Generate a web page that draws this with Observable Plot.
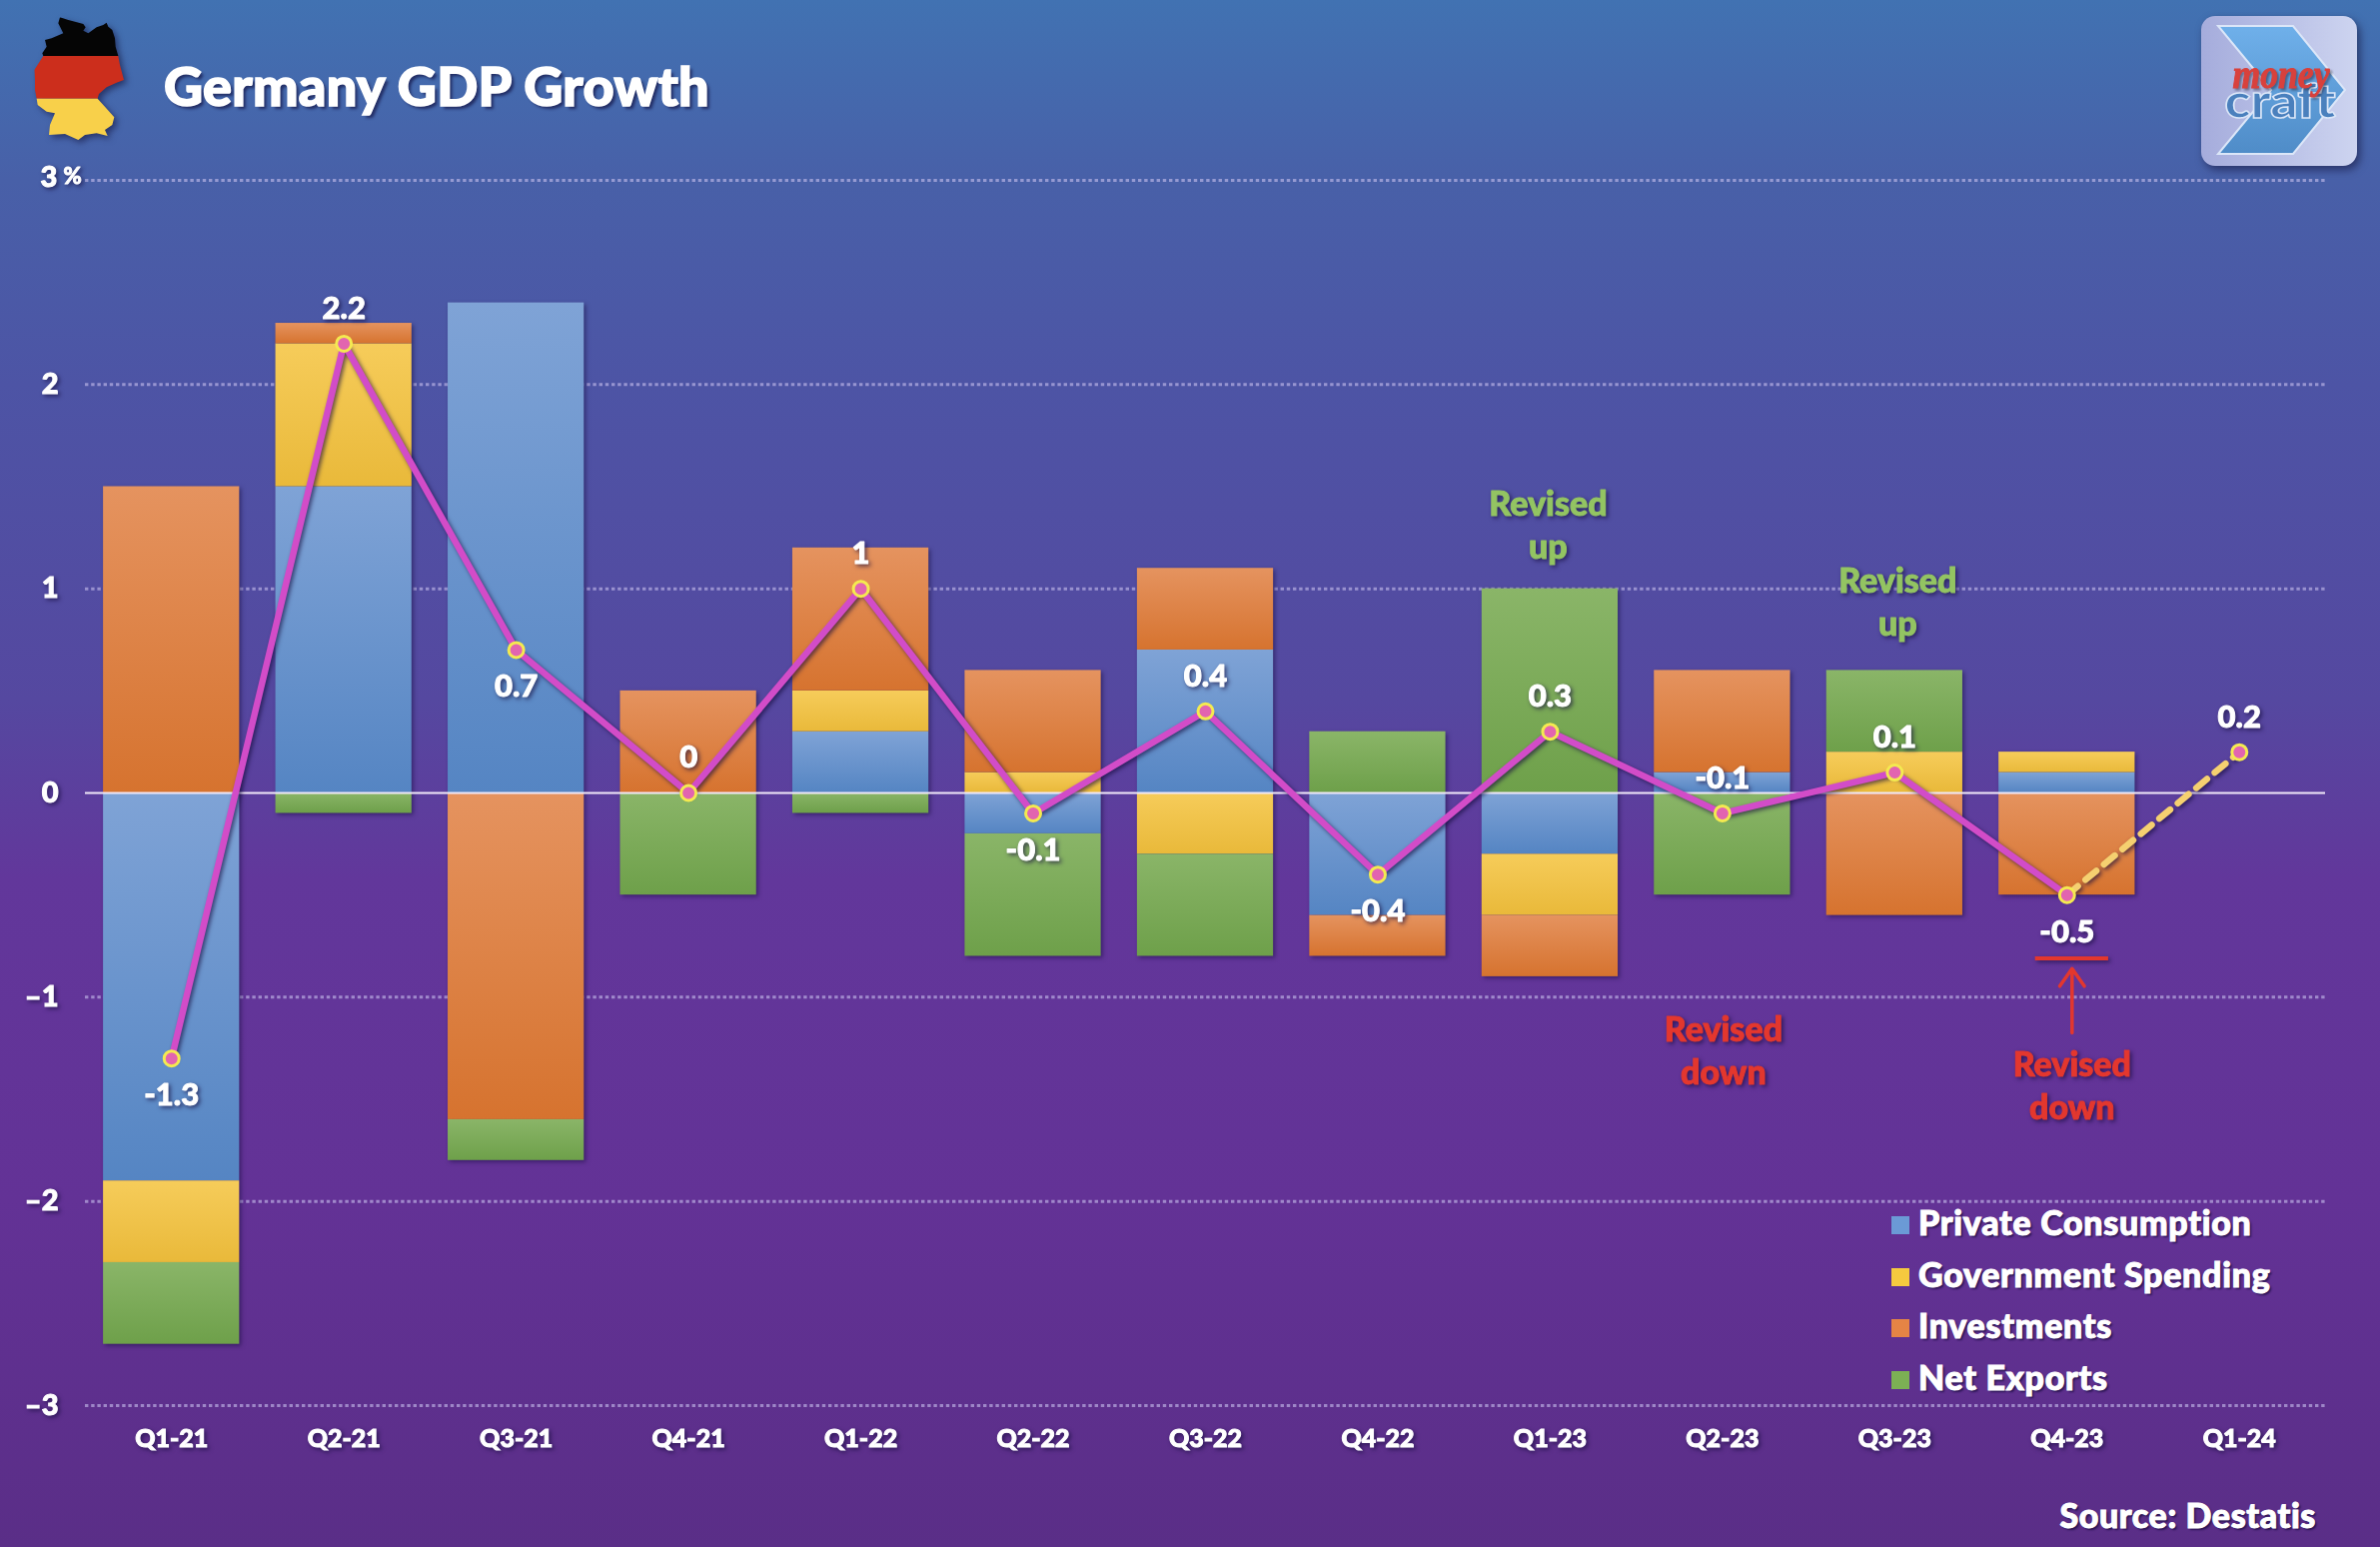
<!DOCTYPE html>
<html>
<head>
<meta charset="utf-8">
<script src="https://cdn.jsdelivr.net/npm/d3@7"></script>
<script src="https://cdn.jsdelivr.net/npm/@observablehq/plot@0.6"></script>
<style>
  html, body { margin: 0; padding: 0; }
  body {
    position: relative; width: 2382px; height: 1548px; overflow: hidden;
    background: linear-gradient(180deg, rgb(65,114,178) 0px, rgb(72,96,168) 180px, rgb(77,84,165) 385px, rgb(85,72,160) 700px, rgb(98,55,155) 880px, rgb(99,50,150) 1200px, rgb(90,46,135) 1548px);
    font-family: Lato, sans-serif; font-weight: 900; color: #fff;
  }
  #chart { position: absolute; left: 0; top: 0; }
  #chart svg { display: block; }
  #chart g[aria-label$="tick label"] text { stroke: #fff; stroke-width: 1px; }
  .title { position: absolute; left: 164px; top: 53px; font-size: 54px; line-height: 66px; letter-spacing: .3px; white-space: nowrap; -webkit-text-stroke: 1.6px #fff; text-shadow: 3px 3px 3px rgba(20,20,70,.7); }
  .source { position: absolute; right: 64px; top: 1496px; font-size: 34px; line-height: 40px; letter-spacing: .6px; white-space: nowrap; -webkit-text-stroke: 1px #fff; text-shadow: 2px 2px 2px rgba(20,10,60,.7); }
  .legend { position: absolute; left: 1893px; top: 1198px; }
  .legend div { position: relative; height: 51.5px; line-height: 50px; font-size: 34px; letter-spacing: .7px; padding-left: 27px; white-space: nowrap; -webkit-text-stroke: 1px #fff; text-shadow: 2px 2px 2px rgba(20,10,60,.7); }
  .legend i { position: absolute; left: 0; top: 19px; width: 18px; height: 18px; }
  .flag, .logo { position: absolute; }
</style>
</head>
<body>
<div id="chart"></div>
<svg class="flag" style="left:25px;top:10px;filter:drop-shadow(3px 3px 3px rgba(20,20,60,.6))" width="110" height="135" viewBox="0 0 330 405">
  <defs><clipPath id="de"><path d="M105,22 L130,30 150,35 175,42 182,52 175,62 190,70 215,52 235,45 245,38 250,50 262,60 270,85 272,110 280,138 285,165 297,210 275,218 245,232 222,252 218,266 235,285 268,322 262,345 240,360 248,378 215,370 180,375 160,390 120,372 72,375 75,345 90,310 65,305 38,285 35,266 30,240 30,210 28,180 55,138 52,130 65,110 60,90 80,85 115,70 100,40 Z"/></clipPath></defs>
  <g clip-path="url(#de)">
    <rect x="0" y="0" width="330" height="138" fill="#050505"/>
    <rect x="0" y="138" width="330" height="128" fill="#cc2e1c"/>
    <rect x="0" y="266" width="330" height="139" fill="#f8d04a"/>
  </g>
</svg>
<div class="title">Germany GDP Growth</div>
<svg class="logo" style="left:2203px;top:16px;filter:drop-shadow(3px 4px 4px rgba(20,20,60,.6))" width="157" height="151" viewBox="0 0 157 151">
  <defs>
    <linearGradient id="lb" x1="0" x2="1" y1="0" y2="0"><stop offset="0" stop-color="#a5acdc"/><stop offset="1" stop-color="#cdd4f0"/></linearGradient>
    <linearGradient id="lc" x1="0" x2="0" y1="0" y2="1"><stop offset="0" stop-color="#6fb0ea"/><stop offset="1" stop-color="#4f8cc8"/></linearGradient>
  </defs>
  <rect x="0" y="0" width="156" height="150" rx="14" fill="url(#lb)"/>
  <path d="M17,10 L92,10 144,74 92,138 17,138 70,74 Z" fill="url(#lc)" stroke="#dbe6f8" stroke-width="2"/>
  <text x="79" y="102" text-anchor="middle" textLength="111" lengthAdjust="spacingAndGlyphs" font-family="Lato" font-weight="900" font-size="48" fill="#4a80bd" stroke="#dbe6f8" stroke-width="1.5">craft</text>
  <text x="80" y="72" text-anchor="middle" textLength="97" lengthAdjust="spacingAndGlyphs" font-family="Liberation Serif" font-style="italic" font-weight="700" font-size="40" fill="#d8413c" stroke="#d8413c" stroke-width="1" style="filter:drop-shadow(2px 2px 1px rgba(40,40,60,.5))">money</text>
</svg>
<div class="legend" id="legend"></div>
<div class="source">Source: Destatis</div>
<script>
const quarters = ["Q1-21","Q2-21","Q3-21","Q4-21","Q1-22","Q2-22","Q3-22","Q4-22","Q1-23","Q2-23","Q3-23","Q4-23","Q1-24"];
const seriesNames = ["Private Consumption","Government Spending","Investments","Net Exports"];
const privateConsumption = [-1.9, 1.5, 2.4, 0, 0.3, -0.2, 0.7, -0.6, -0.3, 0.1, 0, 0.1, 0];
const governmentSpending = [-0.4, 0.7, 0, 0, 0.2, 0.1, -0.3, 0, -0.3, 0, 0.2, 0.1, 0];
const investments = [1.5, 0.1, -1.6, 0.5, 0.7, 0.5, 0.4, -0.2, -0.3, 0.5, -0.6, -0.5, 0];
const netExports = [-0.4, -0.1, -0.2, -0.5, -0.1, -0.6, -0.5, 0.3, 1.0, -0.5, 0.4, 0, 0];
const gdpGrowth = [-1.3, 2.2, 0.7, 0, 1, -0.1, 0.4, -0.4, 0.3, -0.1, 0.1, -0.5, 0.2];
const labelsBelow = ["Q1-21","Q3-21","Q2-22","Q4-22","Q4-23"];
const yTicks = [-3,-2,-1,0,1,2];
const gridTicks = [-3,-2,-1,1,2,3];
const gradientStops = [["#7fa3d6","#5585c3"],["#f6cc5a","#e9b93a"],["#e5935f","#d6732f"],["#8ab568","#6ea04a"]];
const legendColors = ["#6b9ad6","#f5c93f","#e58445","#7cb054"];
const revisedUp = [{q:"Q1-23", v:1.32},{q:"Q3-23", v:0.945}];
const revisedDown = [{q:"Q2-23", v:-1.255},{q:"Q4-23", v:-1.425}];
const underline = [{q:"Q4-23", v:-0.81}];
const arrow = [{q:"Q4-23", from:-1.175, to:-0.86}];

const seriesValues = [privateConsumption, governmentSpending, investments, netExports];
const rows = seriesValues.flatMap((vals, s) => vals.map((value, i) => ({quarter: quarters[i], series: seriesNames[s], value}))).filter(d => d.value !== 0);
const growth = quarters.map((quarter, i) => ({quarter, value: gdpGrowth[i]}));
const shadow = "drop-shadow(2px 2px 2px rgba(20,10,60,.65))";
const font = {fontFamily: "Lato", fontWeight: 900};
const fmt = d => String(d);
const white = {fill: "#fff", stroke: "#fff", strokeWidth: 1, ...font, imageFilter: shadow};
const note = (d, text, color, dx) => Plot.text([d], {x: "q", y: "v", dx, text: () => text, fontSize: 34, lineHeight: 1.27, fill: color, stroke: color, strokeWidth: 1, ...font, imageFilter: shadow});

const plot = Plot.plot({
  width: 2382, height: 1548,
  marginLeft: 85, marginRight: 55, marginTop: 180, marginBottom: 142,
  style: {background: "transparent", fontFamily: "Lato", fontWeight: 900, color: "#fff"},
  x: {domain: quarters, paddingInner: 0.21, paddingOuter: 0.105, round: false, label: null},
  y: {domain: [-3, 3], label: null},
  color: {domain: seriesNames, range: seriesNames.map((_, i) => `url(#grad${i})`)},
  marks: [
    Plot.ruleY(gridTicks, {stroke: "#c9c2ee", strokeOpacity: 0.6, strokeWidth: 3, strokeDasharray: "3.4 2.8"}),
    Plot.barY(rows, {x: "quarter", y: "value", fill: "series", order: null, imageFilter: "drop-shadow(2px 2px 2px rgba(20,10,60,.5))"}),
    Plot.ruleY([0], {stroke: "#f0e8f8", strokeWidth: 2}),
    Plot.axisY({ticks: yTicks, tickSize: 0, tickPadding: 27, tickFormat: d => fmt(d).replace("-", "–"), fontSize: 29, fill: "#fff", label: null, imageFilter: shadow}),
    Plot.text(["3"], {frameAnchor: "top-left", dx: -45, dy: -14, text: d => d, textAnchor: "start", fontSize: 29, ...white}),
    Plot.text(["%"], {frameAnchor: "top-left", dx: -22, dy: -12, text: d => d, textAnchor: "start", fontSize: 22, ...white}),
    Plot.axisX({tickSize: 0, tickPadding: 24, fontSize: 25, fill: "#fff", label: null, imageFilter: shadow}),
    Plot.lineY(growth.slice(11), {x: "quarter", y: "value", stroke: "#f5d070", strokeWidth: 6.5, strokeDasharray: "14 10", imageFilter: shadow}),
    Plot.lineY(growth.slice(0, 12), {x: "quarter", y: "value", stroke: "#d24cc8", strokeWidth: 6.5, imageFilter: shadow}),
    Plot.dot(growth, {x: "quarter", y: "value", r: 7.5, fill: "#e264b0", stroke: "#f4ea50", strokeWidth: 3}),
    Plot.text(growth.filter(d => !labelsBelow.includes(d.quarter)), {x: "quarter", y: "value", text: d => fmt(d.value), dy: -35, fontSize: 31, ...white}),
    Plot.text(growth.filter(d => labelsBelow.includes(d.quarter)), {x: "quarter", y: "value", text: d => fmt(d.value), dy: 37, fontSize: 31, ...white}),
    note(revisedUp[0], "Revised\nup", "#93c462", -2),
    note(revisedUp[1], "Revised\nup", "#93c462", 3),
    note(revisedDown[0], "Revised\ndown", "#e3372e", 1),
    note(revisedDown[1], "Revised\ndown", "#e3372e", 5),
    Plot.tickY(underline, {x: "q", y: "v", dx: 5, insetLeft: 31.5, insetRight: 31.5, stroke: "#e3372e", strokeWidth: 4, imageFilter: shadow}),
    Plot.arrow(arrow, {x1: "q", x2: "q", y1: "from", y2: "to", dx: 5, stroke: "#e3372e", strokeWidth: 3.5, headLength: 22, headAngle: 70})
  ]
});

const NS = "http://www.w3.org/2000/svg";
const defs = document.createElementNS(NS, "defs");
gradientStops.forEach(([a, b], i) => {
  const g = document.createElementNS(NS, "linearGradient");
  g.setAttribute("id", `grad${i}`); g.setAttribute("x1", 0); g.setAttribute("x2", 0); g.setAttribute("y1", 0); g.setAttribute("y2", 1);
  [[0, a], [1, b]].forEach(([o, c]) => {
    const s = document.createElementNS(NS, "stop");
    s.setAttribute("offset", o); s.setAttribute("stop-color", c); g.appendChild(s);
  });
  defs.appendChild(g);
});
plot.insertBefore(defs, plot.firstChild);
document.getElementById("chart").appendChild(plot);

const legend = document.getElementById("legend");
seriesNames.forEach((name, i) => {
  const row = document.createElement("div");
  const sw = document.createElement("i");
  sw.style.background = legendColors[i];
  row.appendChild(sw);
  row.appendChild(document.createTextNode(name));
  legend.appendChild(row);
});
</script>
</body>
</html>
